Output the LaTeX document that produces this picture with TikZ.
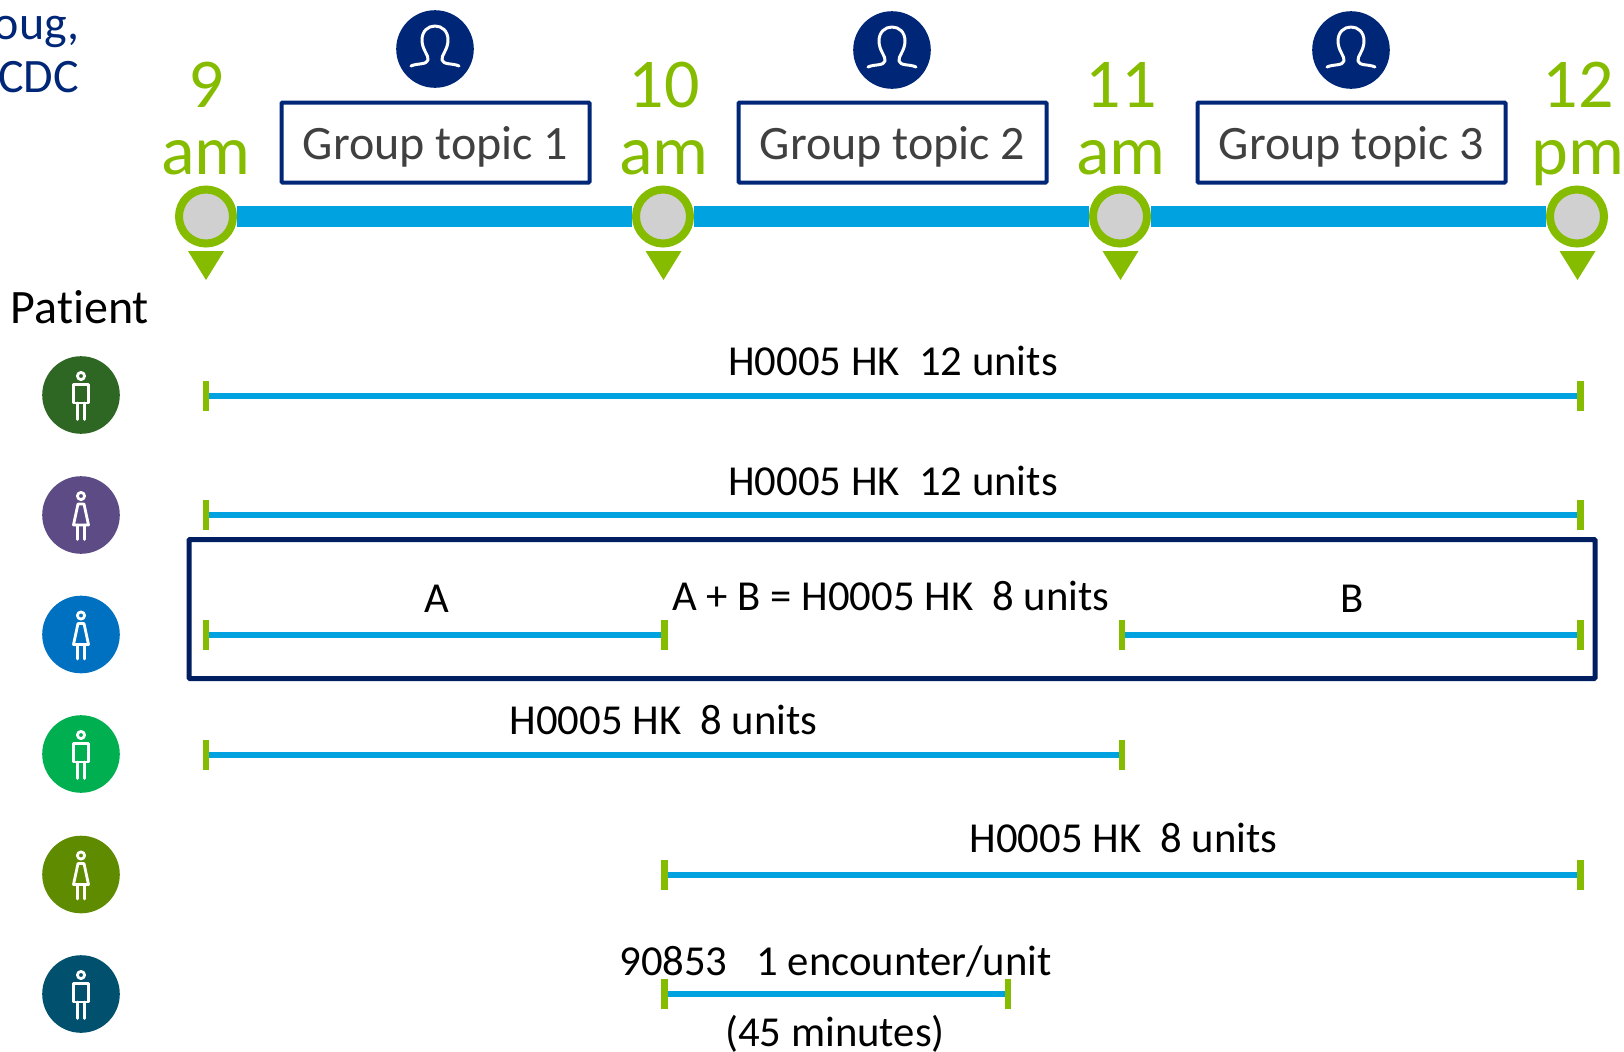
\documentclass[tikz,border=0pt]{standalone}
\usepackage{fontspec}
\setmainfont[Ligatures={NoCommon}]{Carlito}
\definecolor{tlgreen}{HTML}{85BC00}
\definecolor{tlblue}{HTML}{00A3E0}
\definecolor{navy}{HTML}{002677}
\definecolor{framenavy}{HTML}{001E60}
\definecolor{dotgray}{HTML}{D0D0D0}
\definecolor{txtgray}{HTML}{404040}
\definecolor{pa}{HTML}{2D6723}
\definecolor{pb}{HTML}{5C4B85}
\definecolor{pc}{HTML}{0070C0}
\definecolor{pd}{HTML}{00B050}
\definecolor{pe}{HTML}{5E8B00}
\definecolor{pf}{HTML}{00506E}
\tikzset{
  hour/.style={inner sep=0pt,anchor=base,text=tlgreen,font=\fontsize{35}{35}\selectfont},
  timedot/.style={circle,draw=tlgreen,fill=dotgray,line width=4pt,minimum size=27pt,inner sep=0pt},
  topicbox/.style={rectangle,draw=navy,line width=2pt,rounded corners=0.5pt,minimum width=154pt,minimum height=40pt,inner sep=0pt},
  topictext/.style={inner sep=0pt,anchor=base,text=txtgray,font=\fontsize{24}{24}\selectfont},
  iconcirc/.style={circle,minimum size=38.8pt,inner sep=0pt},
  bar/.style={draw=tlblue,line width=10.5pt},
  span/.style={draw=tlblue,line width=3pt},
  tickmark/.style={rectangle,fill=tlgreen,minimum width=3.3pt,minimum height=15pt,inner sep=0pt,outer sep=0pt},
  lbl/.style={inner sep=0pt,anchor=base,font=\fontsize{21.35}{21.35}\selectfont},
  corner/.style={inner sep=0pt,anchor=base east,text=navy,font=\fontsize{24}{24}\selectfont},
  iconline/.style={draw=white,line width=1.4pt,line cap=round,line join=round},
  maleicon/.pic={
    \draw[iconline] (0,-19) circle (3.6);
    \draw[iconline] (-7.5,-10.5) rectangle (7.5,8);
    \draw[iconline] (-3.3,8) -- (-3.3,24.5) (3.3,8) -- (3.3,24.5);
  },
  femaleicon/.pic={
    \draw[iconline] (0,-19) circle (3.6);
    \draw[iconline] (-3,-11) -- (3,-11) -- (7.5,10) -- (-7.5,10) -- cycle;
    \draw[iconline] (-3.3,10) -- (-3.3,24.5) (3.3,10) -- (3.3,24.5);
  },
  leadericon/.pic={
    \draw[draw=white,line width=1.5pt,line cap=round,line join=round]
      (-24,17) .. controls (-18,14) and (-8,16) .. (-7,11)
      .. controls (-6,6) and (-13,1) .. (-13,-9)
      .. controls (-13,-18) and (-7,-23) .. (0,-23)
      .. controls (7,-23) and (13,-18) .. (13,-9)
      .. controls (13,1) and (6,6) .. (7,11)
      .. controls (8,16) and (18,14) .. (24,17);
  },
  droptri/.pic={
    \fill[tlgreen] (-18,251) -- (18,251) -- (0,280) -- cycle;
  }
}
\begin{document}
\begin{tikzpicture}[x=0.5pt,y=-0.5pt]
\useasboundingbox (0,0) rectangle (1624,1051);
\clip (0,0) rectangle (1624,1051);

% corner text
\node[corner] (cornerA) at (80,39) {oug,};
\node[corner] (cornerB) at (79.5,92.5) {CDC};

% time line
\node[timedot] (d9) at (206,216.5) {};
\node[timedot] (d10) at (663,216.5) {};
\node[timedot] (d11) at (1120,216.5) {};
\node[timedot] (d12) at (1577,216.5) {};
\draw[bar] (d9) -- (d10);
\draw[bar] (d10) -- (d11);
\draw[bar] (d11) -- (d12);
\foreach \x in {206,663.5,1120.5,1577.5} \pic at (\x,0) {droptri};

\node[hour] (h9a) at (206,107.5) {9};
\node[hour] (h9b) at (206,174.5) {am};
\node[hour] (h10a) at (664,107.5) {10};
\node[hour] (h10b) at (664,174.5) {am};
\node[hour] (h11a) at (1121,107.5) {11};
\node[hour] (h11b) at (1121,174.5) {am};
\node[hour] (h12a) at (1578,107.5) {12};
\node[hour] (h12b) at (1578,174.5) {pm};

% group topics
\node[topicbox] (g1) at (435.5,142.5) {};
\node[topicbox] (g2) at (892.5,142.5) {};
\node[topicbox] (g3) at (1351.5,142.5) {};
\node[topictext] (g1t) at (435.5,159) {Group topic 1};
\node[topictext] (g2t) at (892.5,159) {Group topic 2};
\node[topictext] (g3t) at (1351.5,159) {Group topic 3};
\node[iconcirc,fill=navy] (l1) at (435,49) {};
\node[iconcirc,fill=navy] (l2) at (892,50) {};
\node[iconcirc,fill=navy] (l3) at (1351,50) {};
\pic at (l1) {leadericon};
\pic at (l2) {leadericon};
\pic at (l3) {leadericon};

% patients
\node[lbl,font=\fontsize{24}{24}\selectfont] (pt) at (80,323) {Patient};
\node[iconcirc,fill=pa] (p1) at (81,395) {};
\node[iconcirc,fill=pb] (p2) at (81,515) {};
\node[iconcirc,fill=pc] (p3) at (81,634.5) {};
\node[iconcirc,fill=pd] (p4) at (81,754) {};
\node[iconcirc,fill=pe] (p5) at (81,874.5) {};
\node[iconcirc,fill=pf] (p6) at (81,994) {};
\pic at (p1) {maleicon};
\pic at (p2) {femaleicon};
\pic at (p3) {femaleicon};
\pic at (p4) {maleicon};
\pic at (p5) {femaleicon};
\pic at (p6) {maleicon};

% frame
\node[rectangle,draw=framenavy,line width=2.5pt,rounded corners=0.5pt,minimum width=703pt,minimum height=69.5pt,inner sep=0pt] (frame) at (892,609) {};

% spans
\node[tickmark] (a1) at (206,395.5) {};
\node[tickmark] (a2) at (1580.5,395.5) {};
\draw[span] (a1) -- (a2);
\node[lbl] (at) at (893,375) {H0005 HK\ \ 12 units};

\node[tickmark] (b1) at (206,515) {};
\node[tickmark] (b2) at (1580.5,515) {};
\draw[span] (b1) -- (b2);
\node[lbl] (bt) at (893,495) {H0005 HK\ \ 12 units};

\node[tickmark] (c1) at (206,634.5) {};
\node[tickmark] (c2) at (664.5,634.5) {};
\node[tickmark] (c3) at (1122,634.5) {};
\node[tickmark] (c4) at (1580.5,634.5) {};
\draw[span] (c1) -- (c2);
\draw[span] (c3) -- (c4);
\node[lbl] (ct1) at (436.5,612) {A};
\node[lbl] (ct2) at (891,610) {A + B = H0005 HK\ \ 8 units};
\node[lbl] (ct3) at (1352,612) {B};

\node[tickmark] (e1) at (206,754.5) {};
\node[tickmark] (e2) at (1122,754.5) {};
\draw[span] (e1) -- (e2);
\node[lbl] (et) at (663.5,734) {H0005 HK\ \ 8 units};

\node[tickmark] (f1) at (664.5,874.5) {};
\node[tickmark] (f2) at (1580.5,874.5) {};
\draw[span] (f1) -- (f2);
\node[lbl] (ft) at (1123.5,852) {H0005 HK\ \ 8 units};

\node[tickmark] (k1) at (664.5,994) {};
\node[tickmark] (k2) at (1008,994) {};
\draw[span] (k1) -- (k2);
\node[lbl] (kt1) at (835.5,975.5) {90853\ \ \ 1 encounter/unit};
\node[lbl] (kt2) at (835,1046) {(45 minutes)};
\end{tikzpicture}
\end{document}
